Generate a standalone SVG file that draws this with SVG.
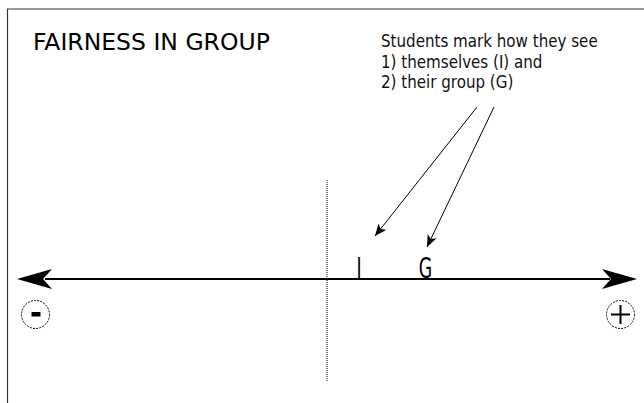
<svg xmlns="http://www.w3.org/2000/svg" width="644" height="403" viewBox="0 0 644 403">
<style>
.txt{font-family:"DejaVu Sans","Liberation Sans",sans-serif;fill:#000}
.cond{font-family:"DejaVu Sans Condensed","DejaVu Sans","Liberation Sans",sans-serif;font-stretch:condensed;fill:#111}
.frame{stroke:#333;stroke-width:1.2;fill:none}
.thin{stroke:#000;stroke-width:1;fill:none}
.dotc{stroke:#000;stroke-width:1;fill:none;stroke-dasharray:2,1.2}
</style>
<defs>
<marker id="barb" viewBox="0 0 12 10" refX="12" refY="5" markerWidth="12" markerHeight="10" markerUnits="userSpaceOnUse" orient="auto">
<path d="M0,0 L12,5 L0,10 L3,5 Z" fill="#000"/>
</marker>
</defs>
<rect width="644" height="403" fill="#fff"/>
<g id="frame">
<path class="frame" d="M7.5,403 V9 H644"/>
</g>
<g id="title">
<text class="txt" x="33" y="50" font-size="23.5">FAIRNESS IN GROUP</text>
</g>
<g id="note">
<text class="cond" x="381" y="46.5" font-size="16.8">Students mark how they see</text>
<text class="cond" x="381" y="67.5" font-size="16.8">1) themselves (I) and</text>
<text class="cond" x="381" y="88" font-size="16.8">2) their group (G)</text>
</g>
<g id="axis">
<line x1="45" y1="279" x2="610" y2="279" stroke="#000" stroke-width="2"/>
<path d="M17,279 L52,269 L43,279 L52,289 Z" fill="#000"/>
<path d="M637,279 L602,269 L611,279 L602,289 Z" fill="#000"/>
</g>
<g id="center-line">
<line x1="327" y1="180" x2="327" y2="381" stroke="#000" stroke-width="1" stroke-dasharray="1,1"/>
</g>
<g id="mark-I">
<text class="txt" x="0" y="0" font-size="28" text-anchor="middle" transform="translate(359,278) scale(0.62,1)">I</text>
</g>
<g id="mark-G">
<text class="txt" x="0" y="0" font-size="28" text-anchor="middle" transform="translate(425.5,278) scale(0.62,1)">G</text>
</g>
<g id="minus">
<circle class="dotc" cx="35.5" cy="314.5" r="14"/>
<rect x="31.5" y="312" width="9" height="4.5" fill="#000"/>
</g>
<g id="plus">
<circle class="dotc" cx="620.5" cy="314.5" r="14"/>
<path d="M611,314.5 H630 M620.5,305 V324" stroke="#000" stroke-width="2" fill="none"/>
</g>
<g id="connectors">
<line class="thin" x1="477" y1="107" x2="375" y2="236" marker-end="url(#barb)"/>
<line class="thin" x1="494" y1="107" x2="427" y2="247" marker-end="url(#barb)"/>
</g>
</svg>
